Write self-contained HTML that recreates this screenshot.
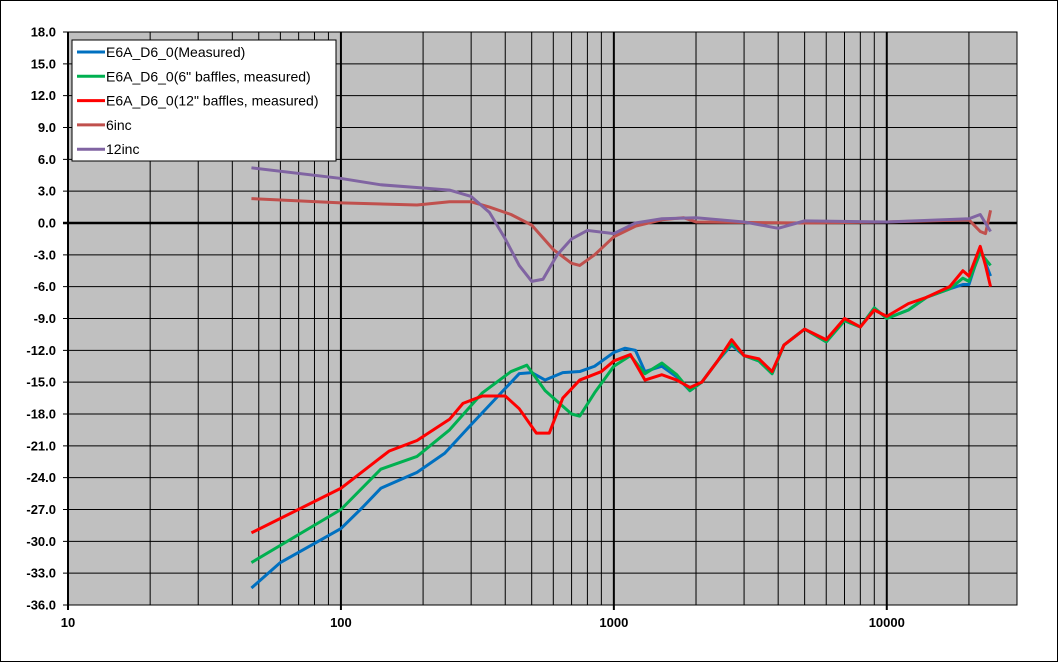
<!DOCTYPE html>
<html><head><meta charset="utf-8"><style>
body{margin:0;background:#fff;}
svg{display:block;font-family:"Liberation Sans",Arial,sans-serif;}
</style></head><body>
<svg id="c" width="1058" height="662">
<rect x="0.5" y="0.5" width="1057" height="661" fill="#fff" stroke="#000"/>
<rect x="68" y="32" width="949" height="573" fill="#c0c0c0" stroke="#000"/>
<g id="grid"></g><g id="series"></g><g id="labels"></g>
<g>
<rect x="72" y="40" width="264" height="121" fill="#fff" stroke="#000"/>
<g id="leg"></g>
</g>
</svg>
<script>
const legendNames=["E6A_D6_0(Measured)","E6A_D6_0(6\" baffles, measured)","E6A_D6_0(12\" baffles, measured)","6inc","12inc"];
const colors=["#0070c0","#00b050","#ff0000","#c0504d","#8064a2"];
const yTicks=[18,15,12,9,6,3,0,-3,-6,-9,-12,-15,-18,-21,-24,-27,-30,-33,-36];
const xTicks=[10,100,1000,10000];
const blueF=[47,60,80,100,120,140,190,240,300,380,450,500,560,650,750,850,1000,1100,1200,1300,1500,1700,1900,2100,2400,2700,3000,3400,3800,4200,5000,6000,7000,8000,9000,10000,12000,14000,17000,19000,20000,22000,24000];
const blueV=[-34.4,-32,-30.2,-28.8,-26.8,-25,-23.5,-21.7,-19,-16.2,-14.2,-14.1,-14.8,-14.1,-14,-13.5,-12.2,-11.8,-12,-14,-13.5,-14.5,-15.8,-15,-13,-11.5,-12.5,-13,-14.2,-11.5,-10,-11.2,-9.2,-9.8,-8,-9,-8.2,-7,-6.2,-5.8,-5.8,-2.5,-5];
const greenF=[47,100,140,190,250,330,420,480,560,700,750,850,1000,1150,1300,1500,1700,1900,2100,2400,2700,3000,3400,3800,4200,5000,6000,7000,8000,9000,10000,12000,14000,17000,19000,20000,22000,24000];
const greenV=[-32,-27,-23.2,-22,-19.5,-16,-14,-13.4,-15.8,-18,-18.2,-16,-13.5,-12.5,-14.2,-13.2,-14.3,-15.8,-15,-13,-11.3,-12.5,-13,-14.2,-11.5,-10,-11.2,-9.2,-9.8,-8,-9,-8.2,-7,-6.2,-5.2,-5.5,-2.8,-4];
const redF=[47,100,150,190,250,280,330,400,450,520,580,650,750,900,1000,1150,1300,1500,1700,1900,2100,2400,2700,3000,3400,3800,4200,5000,6000,7000,8000,9000,10000,12000,14000,17000,19000,20000,22000,23000,24000];
const redV=[-29.2,-25,-21.5,-20.5,-18.5,-17,-16.3,-16.3,-17.5,-19.8,-19.8,-16.5,-14.8,-14,-13,-12.4,-14.8,-14.3,-14.8,-15.5,-15,-13,-11,-12.5,-12.8,-14,-11.5,-10,-11,-9,-9.8,-8.2,-8.8,-7.6,-7,-6,-4.5,-5,-2.2,-4,-6];
const s6F=[47,100,190,250,300,350,420,500,600,700,750,850,1000,1200,1500,1800,2000,5000,10000,20000,22000,23000,24000];
const s6V=[2.3,1.9,1.7,2,2,1.5,0.8,-0.2,-2.5,-3.8,-4,-3,-1.3,-0.3,0.3,0.5,0.1,0,0.1,0.3,-0.8,-1,1.2];
const s12F=[47,100,140,200,250,300,350,400,450,500,550,620,700,800,1000,1200,1500,2000,3000,4000,5000,10000,20000,22000,24000];
const s12V=[5.2,4.2,3.6,3.3,3.1,2.5,1,-1.5,-4,-5.5,-5.3,-3,-1.5,-0.7,-1,0,0.4,0.5,0.1,-0.5,0.2,0.1,0.4,0.8,-0.8];

const X0=68,X1=1017,Y0=32,Y1=605;
const xs=f=>X0+(Math.log10(f)-1)/(Math.log10(30000)-1)*(X1-X0);
const ys=v=>Y0+(18-v)/54*(Y1-Y0);
const NS="http://www.w3.org/2000/svg";
function mk(t,a,p){const e=document.createElementNS(NS,t);for(const k in a)e.setAttribute(k,a[k]);p.appendChild(e);return e;}
const grid=document.getElementById('grid'),lab=document.getElementById('labels');
yTicks.forEach(v=>{const l=mk('line',{x1:X0-5,x2:X1,y1:ys(v),y2:ys(v),stroke:'#000','stroke-width':v===0?2.5:1},grid);


const t=mk('text',{x:56,y:ys(v)+4.5,'text-anchor':'end','font-size':13,'font-weight':'bold'},lab);t.textContent=v.toFixed(1);

});
for(let d=10;d<=10000;d*=10){for(let m=1;m<10;m++){const f=d*m;if(f>30000)break;const x=xs(f);
const l=mk('line',{x1:x,x2:x,y1:Y0,y2:Y1+(m===1?5:0),stroke:'#000','stroke-width':m===1?2:1},grid);

}}
xTicks.forEach(f=>{const t=mk('text',{x:xs(f),y:Y1+22,'text-anchor':'middle','font-size':13,'font-weight':'bold'},lab);t.textContent=f;

});
const ser=document.getElementById('series');
const data=[[blueF,blueV],[greenF,greenV],[redF,redV],[s6F,s6V],[s12F,s12V]];
const sn=['series-measured','series-6in-baffles','series-12in-baffles','series-6inc','series-12inc'];
data.forEach((d,i)=>{const p=mk('polyline',{points:d[0].map((f,j)=>xs(f)+','+ys(d[1][j])).join(' '),fill:'none',stroke:colors[i],'stroke-width':3,'stroke-linejoin':'round'},ser);

});
const leg=document.getElementById('leg');
legendNames.forEach((n,i)=>{const y=52+i*24.3;
const g=mk('g',{},leg);


mk('line',{x1:77,x2:105,y1:y,y2:y,stroke:colors[i],'stroke-width':3},g);
const t=mk('text',{x:106,y:y+5,'font-size':14},g);t.textContent=n;});
</script>
</body></html>
